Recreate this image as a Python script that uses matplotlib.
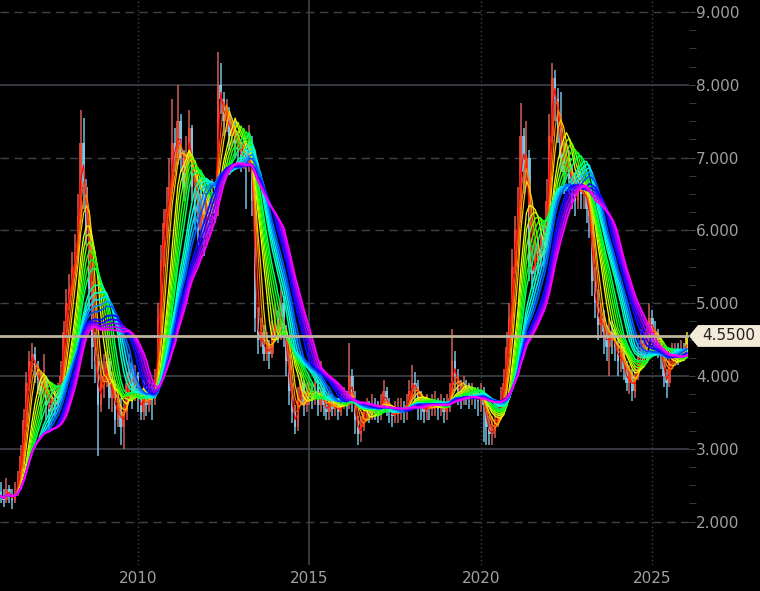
import numpy as np
import pandas as pd
import matplotlib
matplotlib.use("Agg")
import matplotlib.pyplot as plt
import matplotlib.dates as mdates
from matplotlib.colors import hsv_to_rgb
from matplotlib.patches import Polygon
from matplotlib.ticker import FixedLocator
from matplotlib.transforms import blended_transform_factory

# monthly candles, Jan 2006 .. Jan 2026 (one row per year)
first_open = 2.40
closes = [
    2.35, 2.30, 2.45, 2.35, 2.30, 2.40, 2.60, 2.90, 3.40, 3.90, 4.20, 4.30,  # 2006
    4.10, 3.95, 3.80, 3.95, 3.60, 3.50, 3.70, 3.60, 3.70, 4.00, 4.60, 5.00,  # 2007
    5.20, 5.50, 5.70, 6.20, 7.20, 6.60, 6.00, 5.20, 4.40, 4.20, 3.60, 3.90,  # 2008
    4.00, 4.20, 3.70, 3.90, 3.40, 3.60, 3.30, 3.50, 3.90, 4.10, 3.80, 4.00,  # 2009
    3.70, 3.50, 3.80, 3.60, 3.80, 3.70, 3.90, 4.80, 5.60, 6.10, 6.30, 6.60,  # 2010
    7.20, 7.00, 7.50, 7.00, 6.60, 7.00, 7.40, 6.60, 6.30, 6.00, 6.50, 5.90,  # 2011
    6.40, 6.10, 6.50, 6.30, 8.00, 7.80, 7.50, 7.60, 7.30, 7.40, 7.20, 7.10,  # 2012
    7.00, 7.10, 6.90, 7.20, 6.40, 4.80, 4.50, 4.60, 4.30, 4.40, 4.30, 4.60,  # 2013
    4.80, 4.60, 5.00, 4.60, 4.20, 3.80, 3.50, 3.30, 3.70, 3.90, 3.60, 3.80,  # 2014
    3.80, 3.70, 3.90, 3.60, 3.80, 3.60, 3.50, 3.70, 3.55, 3.60, 3.50, 3.60,  # 2015
    3.70, 3.60, 4.00, 3.70, 3.40, 3.20, 3.30, 3.50, 3.55, 3.50, 3.60, 3.55,  # 2016
    3.50, 3.60, 3.80, 3.60, 3.50, 3.45, 3.50, 3.50, 3.55, 3.50, 3.60, 3.80,  # 2017
    3.90, 3.85, 3.70, 3.60, 3.50, 3.60, 3.55, 3.60, 3.60, 3.55, 3.60, 3.50,  # 2018
    3.60, 3.70, 4.20, 4.00, 3.80, 3.70, 3.85, 3.80, 3.70, 3.75, 3.70, 3.65,  # 2019
    3.75, 3.60, 3.30, 3.20, 3.25, 3.40, 3.50, 3.70, 3.90, 4.40, 4.80, 5.50,  # 2020
    6.00, 6.30, 7.30, 6.80, 7.00, 5.50, 5.40, 5.70, 5.60, 5.90, 5.80, 6.40,  # 2021
    7.30, 8.10, 7.80, 7.40, 7.00, 6.80, 7.00, 6.70, 6.60, 6.40, 6.70, 6.50,  # 2022
    6.60, 6.30, 6.20, 5.30, 5.00, 4.70, 4.80, 4.60, 4.40, 4.60, 4.50, 4.40,  # 2023
    4.20, 4.30, 4.10, 3.90, 4.00, 3.80, 4.00, 4.30, 4.50, 4.40, 4.60, 4.80,  # 2024
    4.60, 4.50, 4.40, 4.30, 4.00, 3.90, 4.20, 4.30, 4.35, 4.30, 4.35, 4.30,  # 2025
    4.55,                                                                    # 2026
]
highs = [
    2.55, 2.45, 2.60, 2.50, 2.45, 2.55, 2.70, 3.05, 3.55, 4.05, 4.35, 4.45,
    4.40, 4.20, 4.05, 4.30, 4.00, 3.70, 3.85, 3.80, 3.90, 4.20, 4.75, 5.20,
    5.40, 5.70, 5.95, 6.50, 7.65, 7.55, 6.70, 6.10, 5.30, 4.60, 4.30, 4.20,
    4.30, 4.35, 4.25, 4.05, 3.95, 3.75, 3.70, 3.65, 4.05, 4.30, 4.20, 4.15,
    4.05, 3.80, 3.95, 3.85, 3.95, 3.90, 4.10, 5.00, 5.80, 6.30, 6.60, 7.00,
    7.80, 7.40, 8.00, 7.60, 7.10, 7.30, 7.65, 7.45, 6.80, 6.50, 6.70, 6.60,
    6.60, 6.50, 6.70, 6.60, 8.45, 8.30, 7.90, 7.80, 7.70, 7.55, 7.50, 7.35,
    7.25, 7.30, 7.20, 7.45, 7.30, 6.50, 4.95, 4.80, 4.70, 4.60, 4.50, 4.75,
    5.00, 4.90, 5.25, 5.10, 4.70, 4.30, 3.90, 3.60, 3.85, 4.05, 3.95, 3.90,
    3.95, 3.90, 4.05, 3.95, 4.20, 3.85, 3.70, 3.80, 3.75, 3.70, 3.65, 3.75,
    3.85, 3.80, 4.45, 4.10, 3.80, 3.45, 3.45, 3.60, 3.70, 3.65, 3.75, 3.70,
    3.65, 3.75, 3.95, 3.85, 3.70, 3.60, 3.65, 3.70, 3.70, 3.65, 3.75, 3.95,
    4.15, 4.05, 3.95, 3.80, 3.70, 3.75, 3.70, 3.75, 3.80, 3.70, 3.75, 3.70,
    3.75, 3.90, 4.65, 4.35, 4.10, 3.95, 4.00, 3.95, 3.90, 3.90, 3.85, 3.85,
    3.90, 3.85, 3.70, 3.45, 3.45, 3.55, 3.65, 3.85, 4.10, 4.60, 5.00, 5.75,
    6.20, 6.60, 7.75, 7.40, 7.50, 7.10, 5.80, 5.90, 5.90, 6.10, 6.10, 6.70,
    7.60, 8.30, 8.20, 7.95, 7.90, 7.20, 7.20, 7.10, 6.90, 6.80, 6.90, 6.80,
    6.90, 6.80, 6.50, 6.30, 5.50, 5.20, 5.00, 4.90, 4.70, 4.80, 4.75, 4.65,
    4.50, 4.45, 4.40, 4.20, 4.15, 4.10, 4.15, 4.45, 4.65, 4.60, 4.75, 5.00,
    4.90, 4.75, 4.65, 4.50, 4.40, 4.10, 4.30, 4.45, 4.45, 4.45, 4.50, 4.45,
    4.60,
]
lows = [
    2.25, 2.20, 2.25, 2.25, 2.18, 2.25, 2.35, 2.55, 2.85, 3.30, 3.80, 4.05,
    3.90, 3.75, 3.40, 3.70, 3.40, 3.25, 3.45, 3.45, 3.50, 3.65, 3.95, 4.55,
    4.90, 5.10, 5.40, 5.60, 6.10, 6.30, 5.80, 4.90, 4.10, 3.90, 2.90, 3.50,
    3.70, 3.85, 3.55, 3.50, 3.20, 3.30, 3.05, 3.00, 3.40, 3.75, 3.55, 3.65,
    3.50, 3.40, 3.40, 3.45, 3.50, 3.40, 3.60, 3.85, 4.70, 5.50, 5.90, 6.20,
    6.50, 6.80, 6.90, 6.80, 6.40, 6.50, 6.90, 6.40, 6.00, 5.80, 5.90, 5.65,
    5.80, 5.95, 6.00, 6.10, 6.20, 7.60, 7.30, 7.35, 7.10, 7.15, 7.00, 6.90,
    6.80, 6.85, 6.30, 6.80, 6.20, 4.60, 4.30, 4.40, 4.20, 4.20, 4.10, 4.25,
    4.50, 4.45, 4.50, 4.40, 4.00, 3.60, 3.35, 3.20, 3.25, 3.60, 3.45, 3.50,
    3.60, 3.55, 3.60, 3.45, 3.50, 3.45, 3.40, 3.40, 3.45, 3.45, 3.40, 3.45,
    3.55, 3.45, 3.55, 3.50, 3.20, 3.05, 3.10, 3.25, 3.40, 3.35, 3.40, 3.40,
    3.35, 3.40, 3.50, 3.45, 3.35, 3.30, 3.35, 3.35, 3.40, 3.35, 3.40, 3.55,
    3.70, 3.60, 3.40, 3.40, 3.35, 3.40, 3.40, 3.45, 3.45, 3.40, 3.45, 3.35,
    3.40, 3.50, 3.65, 3.80, 3.60, 3.55, 3.60, 3.60, 3.55, 3.60, 3.55, 3.45,
    3.50, 3.10, 3.05, 3.05, 3.05, 3.15, 3.30, 3.40, 3.60, 3.80, 4.30, 4.70,
    5.40, 5.80, 6.10, 6.50, 6.60, 5.30, 5.20, 5.30, 5.40, 5.50, 5.50, 5.70,
    6.30, 7.20, 7.50, 7.20, 6.80, 6.50, 6.70, 6.50, 6.30, 6.20, 6.30, 6.30,
    6.30, 6.10, 5.90, 5.10, 4.80, 4.50, 4.55, 4.30, 4.20, 4.00, 4.30, 4.20,
    4.00, 4.05, 3.95, 3.80, 3.75, 3.65, 3.70, 3.95, 4.25, 4.25, 4.35, 4.55,
    4.45, 4.40, 4.25, 4.10, 3.85, 3.70, 3.85, 4.15, 4.20, 4.15, 4.20, 4.20,
    4.25,
]
last_price = 4.55
ma_periods = [2, 3, 4, 5, 7, 8, 9, 10, 11, 12, 14, 15, 16, 17, 18, 20, 21, 22, 23, 24]
year_ticks = [2010, 2015, 2020, 2025]

grid_c = "#3e434b"
text_c = "#a0a0a0"

fig = plt.figure(figsize=(7.6, 5.91), dpi=100, facecolor="black")
ax = fig.add_axes([0, 26 / 591, 689 / 760, 565 / 591])
ax.set_facecolor("black")

dates = pd.date_range("2006-01-01", periods=len(closes), freq="MS")
x = mdates.date2num(dates)
c = np.array(closes)
o = np.r_[first_open, c[:-1]]
h = np.array(highs)
l = np.array(lows)

# red = up month, light blue = down month, current month yellow
cols = np.where(c >= o, "#f24a33", "#86d0f0").astype(object)
cols[-1] = "#f0e020"
wick_cols = np.where(c >= o, "#d0605a", "#78c0e0").astype(object)
wick_cols[-1] = "#f0e020"

ax.vlines(x, l, h, colors=list(wick_cols), lw=1.1, zorder=2)
body = np.maximum(np.abs(c - o), 0.03)
ax.bar(x, body, bottom=np.minimum(o, c), width=28, color=list(cols),
       linewidth=0, zorder=2.1, alpha=0.85)

# rainbow of simple moving averages, fast (red) to slow (magenta)
s = pd.Series(c)
n = len(ma_periods)
for k, p in enumerate(ma_periods):
    ma = s.rolling(p, min_periods=1).mean()
    col = hsv_to_rgb((0.83 * k / (n - 1), 1.0, 1.0))
    ax.plot(x, ma, color=col, lw=0.8 + 0.6 * k / (n - 1), zorder=3 + k * 0.01)

# grid
for v in [9, 7, 6, 5, 2]:
    ax.axhline(v, color=grid_c, lw=1, ls=(0, (6, 4)), zorder=0.5)
for v in [8, 4, 3]:
    ax.axhline(v, color=grid_c, lw=1.2, zorder=0.5)
for yr in year_ticks:
    xv = mdates.date2num(pd.Timestamp(f"{yr}-01-01"))
    if yr == 2015:
        ax.axvline(xv, color=grid_c, lw=1.2, zorder=0.5)
    else:
        ax.axvline(xv, color=grid_c, lw=1, ls=(0, (1, 2)), zorder=0.5)

ax.axhline(last_price, color="#bfb39c", lw=2, zorder=10)

ax.set_ylim(1.404, 9.165)
ax.set_xlim(mdates.date2num(pd.Timestamp("2005-12-23")),
            mdates.date2num(pd.Timestamp("2026-01-26")))

ax.yaxis.tick_right()
ax.set_yticks(range(2, 10))
ax.set_yticklabels([f"{v:.3f}" for v in range(2, 10)])
ax.yaxis.set_minor_locator(FixedLocator([v / 4 for v in range(8, 37) if v % 4]))
ax.tick_params(axis="y", which="major", colors=grid_c, labelcolor=text_c,
               labelsize=11, length=4, pad=1)
ax.tick_params(axis="y", which="minor", colors=grid_c, length=5)
ax.set_xticks([mdates.date2num(pd.Timestamp(f"{yr}-01-01")) for yr in year_ticks])
ax.set_xticklabels([str(yr) for yr in year_ticks])
ax.tick_params(axis="x", length=0, pad=4, labelsize=11, labelcolor=text_c)
for sp in ax.spines.values():
    sp.set_visible(False)

# price tag on the right
tr = blended_transform_factory(fig.transFigure, ax.transData)
hh = 0.15
tag = Polygon([(689 / 760, last_price), (698 / 760, last_price + hh),
               (1.0, last_price + hh), (1.0, last_price - hh),
               (698 / 760, last_price - hh)],
              closed=True, transform=tr, facecolor="#f3ead8",
              edgecolor="none", clip_on=False, zorder=20)
fig.add_artist(tag)
fig.text(729 / 760, last_price, f"{last_price:.4f}", transform=tr,
         ha="center", va="center", fontsize=11, color="#222222", zorder=21)

fig.savefig("out.png", dpi=100, facecolor="black")
